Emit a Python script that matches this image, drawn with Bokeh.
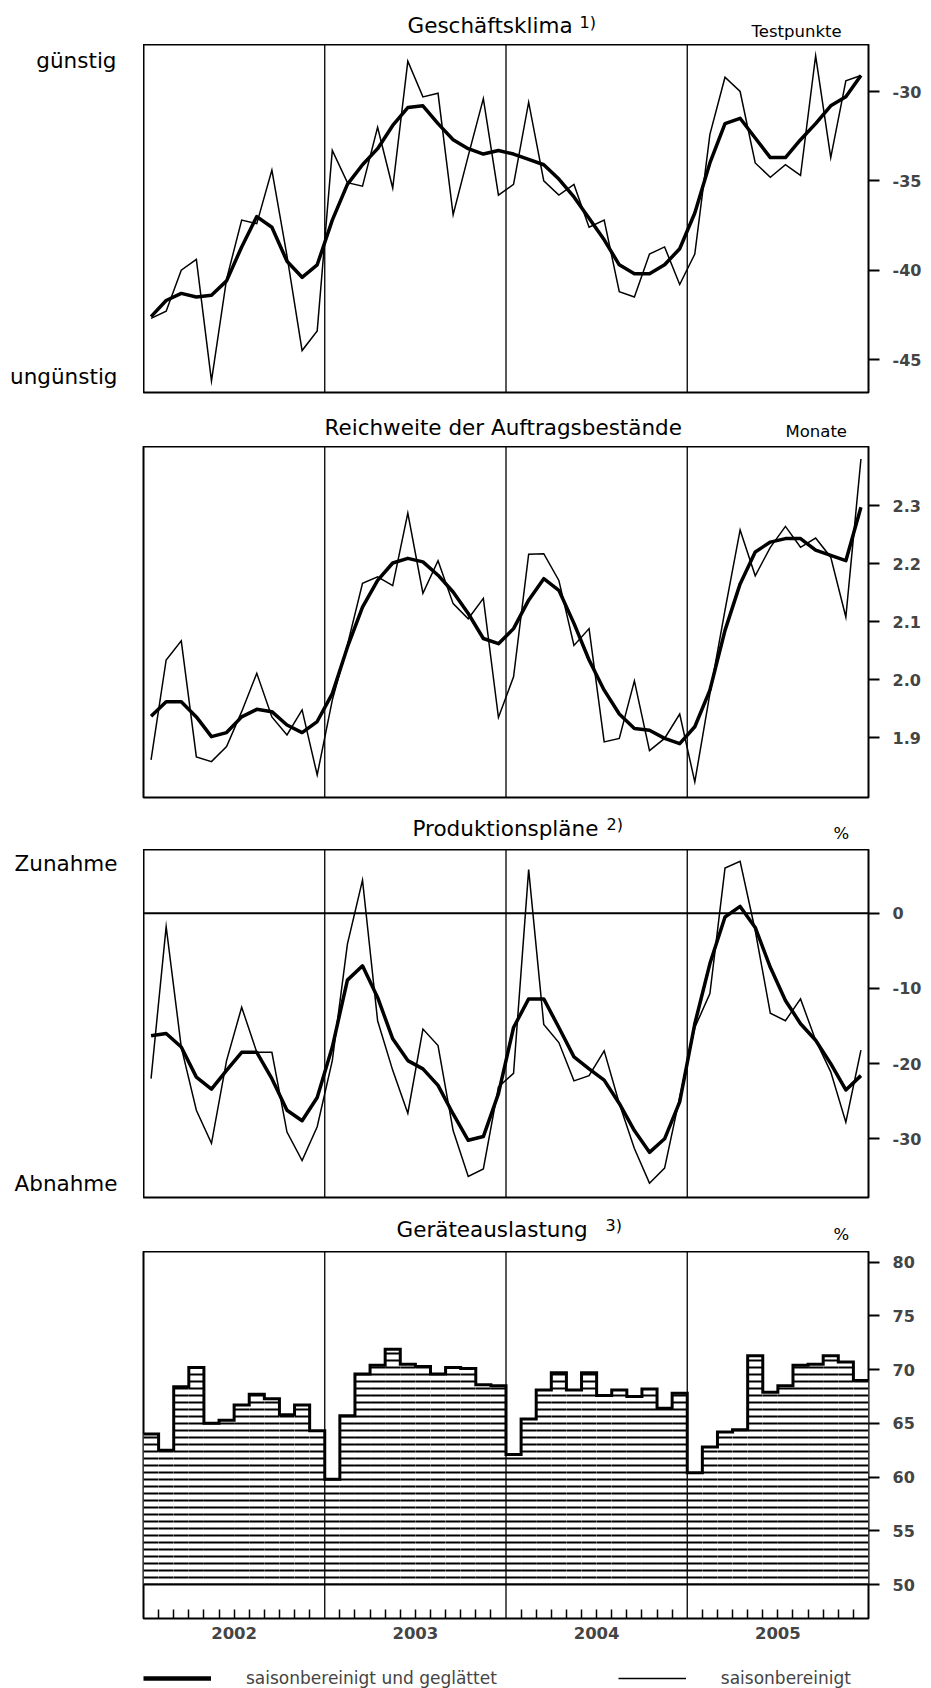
import numpy as np
from bokeh.plotting import figure
from bokeh.layouts import column, row
from bokeh.models import (Range1d, LinearAxis, FixedTicker, Span, Legend,
                          LegendItem, PrintfTickFormatter)
from bokeh.core.properties import value
from bokeh.embed import file_html
from bokeh.resources import INLINE

# ---------------- data ----------------
YEARS = ["2002", "2003", "2004", "2005"]
N_MONTHS = 48

# Geschäftsklima (Testpunkte)
klima_sb = [-42.7, -42.3, -40.0, -39.4, -46.2, -40.5, -37.2, -37.4, -34.4, -39.2, -44.5, -43.4,
            -33.3, -35.1, -35.3, -32.0, -35.4, -28.3, -30.3, -30.1, -36.9, -33.6, -30.4, -35.8,
            -35.2, -30.6, -35.0, -35.8, -35.2, -37.6, -37.2, -41.2, -41.5, -39.1, -38.7, -40.8,
            -39.1, -32.4, -29.2, -30.0, -34.0, -34.8, -34.1, -34.7, -28.0, -33.7, -29.4, -29.1]
klima_gl = [-42.6, -41.7, -41.3, -41.5, -41.4, -40.6, -38.7, -37.0, -37.6, -39.5, -40.4, -39.7,
            -37.2, -35.2, -34.1, -33.2, -31.9, -30.9, -30.8, -31.8, -32.7, -33.2, -33.5, -33.3,
            -33.5, -33.8, -34.1, -34.9, -35.9, -37.1, -38.3, -39.7, -40.2, -40.2, -39.7, -38.8,
            -36.8, -34.0, -31.8, -31.5, -32.6, -33.7, -33.7, -32.7, -31.8, -30.8, -30.3, -29.1]
klima_ticks = [-45, -40, -35, -30]

# Reichweite der Auftragsbestände (Monate)
reich_sb = [1.862, 2.034, 2.067, 1.867, 1.859, 1.885, 1.945, 2.011, 1.936, 1.905, 1.948, 1.836,
            1.965, 2.060, 2.166, 2.177, 2.162, 2.287, 2.149, 2.205, 2.131, 2.105, 2.140, 1.935,
            2.005, 2.216, 2.217, 2.171, 2.059, 2.088, 1.893, 1.899, 1.998, 1.878, 1.899, 1.941,
            1.824, 1.976, 2.120, 2.258, 2.179, 2.228, 2.264, 2.228, 2.244, 2.211, 2.108, 2.380]
reich_gl = [1.937, 1.962, 1.962, 1.936, 1.902, 1.909, 1.936, 1.949, 1.945, 1.922, 1.909, 1.928,
            1.976, 2.056, 2.125, 2.171, 2.201, 2.209, 2.203, 2.180, 2.151, 2.114, 2.071, 2.062,
            2.088, 2.137, 2.174, 2.154, 2.097, 2.034, 1.982, 1.941, 1.916, 1.913, 1.899, 1.890,
            1.919, 1.982, 2.085, 2.165, 2.220, 2.237, 2.243, 2.243, 2.223, 2.214, 2.205, 2.297]
reich_ticks = [1.9, 2.0, 2.1, 2.2, 2.3]

# Produktionspläne (%)
prod_sb = [-22.0, -1.8, -17.8, -26.2, -30.6, -19.6, -12.5, -18.5, -18.5, -29.1, -32.9, -28.4,
           -19.6, -4.1, 4.4, -14.3, -20.9, -26.6, -15.4, -17.6, -28.9, -35.0, -34.0, -23.1,
           -21.3, 5.8, -14.8, -17.2, -22.3, -21.6, -18.3, -25.3, -31.3, -35.9, -33.9, -24.5,
           -15.2, -10.7, 6.0, 6.9, -2.3, -13.3, -14.3, -11.4, -16.9, -21.1, -27.8, -18.2]
prod_gl = [-16.3, -16.0, -17.8, -21.8, -23.4, -20.9, -18.5, -18.5, -22.0, -26.2, -27.6, -24.5,
           -17.8, -8.9, -7.0, -11.2, -16.7, -19.6, -20.7, -22.9, -26.7, -30.2, -29.7, -24.0,
           -15.2, -11.4, -11.4, -15.2, -19.1, -20.7, -22.2, -25.3, -28.9, -31.8, -30.0, -25.1,
           -14.7, -6.7, -0.5, 0.9, -1.9, -7.2, -11.6, -14.7, -16.9, -20.0, -23.5, -21.6]
prod_ticks = [-30, -20, -10, 0]

# Geräteauslastung (%)
geraet = [64.0, 62.5, 68.4, 70.2, 65.0, 65.3, 66.7, 67.7, 67.3, 65.8, 66.7, 64.3,
          59.8, 65.7, 69.6, 70.4, 71.9, 70.5, 70.3, 69.6, 70.2, 70.1, 68.6, 68.5,
          62.1, 65.4, 68.1, 69.7, 68.1, 69.7, 67.6, 68.1, 67.5, 68.2, 66.4, 67.8,
          60.4, 62.8, 64.2, 64.4, 71.3, 67.9, 68.5, 70.4, 70.5, 71.3, 70.7, 69.0]
geraet_ticks = [50, 55, 60, 65, 70, 75, 80]
GERAET_BASE = 50

TITLES = ["Geschäftsklima", "Reichweite der Auftragsbestände", "Produktionspläne",
          "Geräteauslastung"]
FOOTNOTES = ["1)", None, "2)", "3)"]
UNITS = ["Testpunkte", "Monate", "%", "%"]
SIDE_LABELS = {0: ("günstig", "ungünstig"), 2: ("Zunahme", "Abnahme")}
LEGEND_LABELS = ["saisonbereinigt und geglättet", "saisonbereinigt"]

# ---------------- layout / style ----------------
W = 931
H = 1688
FL, FR = 143, 868
FONT = "DejaVu Sans"
TITLE_SIZE = "21.5px"
UNIT_SIZE = "16.5px"
SUP_SIZE = "16px"
TICK_SIZE = "16px"
THICK_W = 3.5
THIN_W = 1.5

x_mid = [i + 0.5 for i in range(N_MONTHS)]
year_bounds = [m for m in range(12, N_MONTHS, 12)]
year_centers = [6 + 12 * k for k in range(len(YEARS))]
month_bounds = [m for m in range(1, N_MONTHS) if m % 12 != 0]


def frame_range(top, bottom, t_hi, py_hi, t_lo, py_lo):
    k = (py_lo - py_hi) / (t_hi - t_lo)
    return (t_lo - (bottom - py_lo) / k, t_hi + (py_hi - top) / k)


# panel figure geometry (global pixels)
panels = [
    dict(off=44, h=366, top=44, bot=392, yr=frame_range(44, 392, -30, 91.0, -45, 359.0)),
    dict(off=446, h=366, top=446, bot=797, yr=frame_range(446, 797, 2.3, 505.0, 1.9, 737.3)),
    dict(off=849, h=361, top=849, bot=1197, yr=frame_range(849, 1197, 0, 912.7, -30, 1138.3)),
    dict(off=1251, h=404, top=1251, bot=1618, yr=frame_range(1251, 1618, 80, 1261.7, 50, 1584.0)),
]
strip_tops = [0, 410, 812, 1210]          # title strips above each panel
# text centres: (title x, title y, sup x, sup y, unit x, unit y)
title_pos = [(407, 25, 579, 22, 751, 30.5),
             (324, 426.5, None, None, 785, 431),
             (412, 827.5, 606, 824, 833, 833),
             (396, 1229, 605, 1225, 833, 1234)]
side_pos = {0: ((116, 60), (117, 376)), 2: ((117, 863), (117, 1182.5))}


def strip_fig(height):
    """Full-width strip whose frame lines up with the panel frames (data x = page px)."""
    s = figure(width=W, height=height, x_range=Range1d(FL, FR),
               y_range=Range1d(height, 0), output_backend="svg", toolbar_location=None,
               x_axis_location=None, y_axis_location=None,
               min_border_left=FL, min_border_right=W - FR, min_border_top=0,
               min_border_bottom=0)
    s.outline_line_color = None
    s.grid.visible = False
    return s


def put_text(s, txt, x, y, size, align="left"):
    s.text(x=[x], y=[y], text=[txt], text_font=value(FONT), text_font_size=value(size),
           text_align=align, text_baseline="middle", text_color="black")


def make_fig(pn, with_left_border):
    left = FL if with_left_border else 0
    p = figure(width=W - (0 if with_left_border else FL), height=pn["h"],
               x_range=Range1d(0, N_MONTHS), y_range=Range1d(*pn["yr"]),
               output_backend="svg", toolbar_location=None,
               x_axis_location=None, y_axis_location=None,
               min_border_left=left, min_border_right=W - FR,
               min_border_top=pn["top"] - pn["off"],
               min_border_bottom=pn["off"] + pn["h"] - pn["bot"])
    p.grid.visible = False
    p.outline_line_color = "black"
    p.outline_line_width = 2
    p.outline_line_alpha = 1
    for m in year_bounds:
        p.add_layout(Span(location=m, dimension="height", line_color="black", line_width=1.3))
    return p


def right_axis(p, ticks, fmt):
    ax = LinearAxis(ticker=FixedTicker(ticks=ticks), formatter=PrintfTickFormatter(format=fmt))
    ax.axis_line_color = None
    ax.major_tick_in = 0
    ax.major_tick_out = 11
    ax.major_tick_line_width = 2
    ax.minor_tick_line_color = None
    ax.major_label_text_font = FONT
    ax.major_label_text_font_style = "bold"
    ax.major_label_text_font_size = TICK_SIZE
    ax.major_label_standoff = 13
    p.add_layout(ax, "right")


def lines(p, sb, gl):
    p.line(x_mid, sb, line_color="black", line_width=THIN_W, line_join="miter")
    p.line(x_mid, gl, line_color="black", line_width=THICK_W, line_join="round")


def title_strip(k, next_top):
    top = strip_tops[k]
    s = strip_fig(next_top - top)
    tx, ty, sx, sy, ux, uy = title_pos[k]
    put_text(s, TITLES[k], tx, ty - top, TITLE_SIZE)
    if FOOTNOTES[k]:
        put_text(s, FOOTNOTES[k], sx, sy - top, SUP_SIZE)
    put_text(s, UNITS[k], ux, uy - top, UNIT_SIZE)
    return s


def side_strip(k):
    pn = panels[k]
    fh = pn["bot"] - pn["top"]
    s = figure(width=FL, height=pn["h"], x_range=Range1d(0, FL), y_range=Range1d(fh, 0),
               output_backend="svg", toolbar_location=None,
               x_axis_location=None, y_axis_location=None,
               min_border_left=0, min_border_right=0, min_border_top=pn["top"] - pn["off"],
               min_border_bottom=pn["off"] + pn["h"] - pn["bot"])
    s.outline_line_color = None
    s.grid.visible = False
    (ax_, ay_), (bx_, by_) = side_pos[k]
    hi, lo = SIDE_LABELS[k]
    put_text(s, hi, ax_, ay_ - pn["top"], TITLE_SIZE, "right")
    put_text(s, lo, bx_, by_ - pn["top"], TITLE_SIZE, "right")
    return s


children = []

# ---- panel 1 ----
children.append(title_strip(0, panels[0]["off"]))
p1 = make_fig(panels[0], False)
lines(p1, klima_sb, klima_gl)
right_axis(p1, klima_ticks, "%d")
children.append(row(side_strip(0), p1, spacing=0))

# ---- panel 2 ----
children.append(title_strip(1, panels[1]["off"]))
p2 = make_fig(panels[1], True)
lines(p2, reich_sb, reich_gl)
right_axis(p2, reich_ticks, "%.1f")
children.append(p2)

# ---- panel 3 ----
children.append(title_strip(2, panels[2]["off"]))
p3 = make_fig(panels[2], False)
p3.add_layout(Span(location=0, dimension="width", line_color="black", line_width=2))
lines(p3, prod_sb, prod_gl)
right_axis(p3, prod_ticks, "%d")
children.append(row(side_strip(2), p3, spacing=0))

# ---- panel 4 ----
children.append(title_strip(3, panels[3]["off"]))
p4 = make_fig(panels[3], True)
p4.quad(left=list(range(N_MONTHS)), right=[i + 1 for i in range(N_MONTHS)],
        bottom=GERAET_BASE, top=geraet, fill_color="white", line_color=None,
        hatch_pattern="horizontal_line", hatch_scale=7, hatch_weight=2, hatch_color="black")
p4.add_layout(Span(location=GERAET_BASE, dimension="width", line_color="black", line_width=2))
p4.step(list(range(N_MONTHS + 1)), geraet + [geraet[-1]], mode="after",
        line_color="black", line_width=3, line_join="miter")
right_axis(p4, geraet_ticks, "%d")

xa = LinearAxis(ticker=FixedTicker(ticks=year_centers, minor_ticks=month_bounds),
                major_label_overrides={c: y for c, y in zip(year_centers, YEARS)})
xa.axis_line_color = None
xa.major_tick_in = 0
xa.major_tick_out = 0
xa.minor_tick_in = 9
xa.minor_tick_out = 0
xa.minor_tick_line_width = 1.5
xa.major_label_text_font = FONT
xa.major_label_text_font_style = "bold"
xa.major_label_text_font_size = "16.5px"
xa.major_label_standoff = 8
p4.add_layout(xa, "below")
children.append(p4)

# ---- legend strip ----
leg_top = panels[3]["off"] + panels[3]["h"]
ls = strip_fig(H - leg_top)
no_data = np.array([np.nan])
r_thick = ls.line(x=no_data, y=no_data, line_color="black", line_width=4.5)
r_thin = ls.line(x=no_data, y=no_data, line_color="black", line_width=THIN_W)
legend = Legend(items=[LegendItem(label=LEGEND_LABELS[0], renderers=[r_thick]),
                       LegendItem(label=LEGEND_LABELS[1], renderers=[r_thin])],
                orientation="horizontal", location=(0, 0), glyph_width=68, glyph_height=18,
                label_height=18, label_standoff=35, spacing=121, padding=0, margin=0,
                border_line_color=None, background_fill_alpha=0,
                label_text_font=FONT, label_text_font_size="17px")
ls.add_layout(legend)
children.append(ls)

layout = column(*children, spacing=0)
open("out.html", "w").write(file_html(layout, INLINE))
